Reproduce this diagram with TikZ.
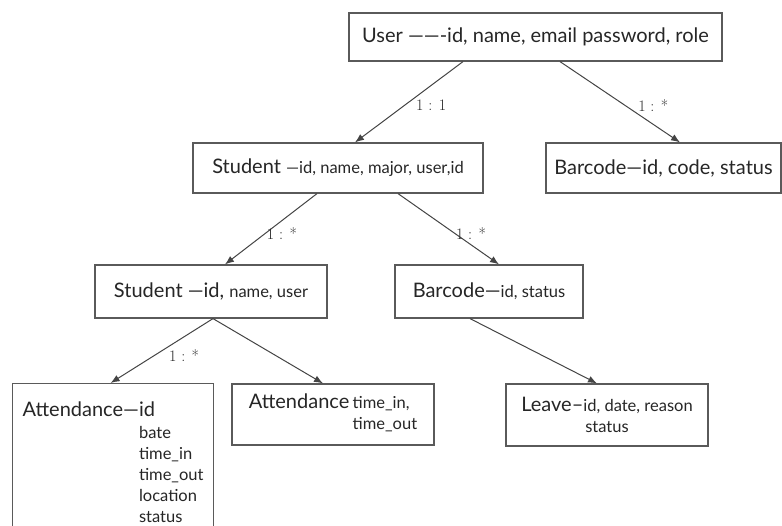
\documentclass[tikz,border=0pt]{standalone}
\usepackage{fontspec}
\setmainfont{Lato}
\newfontfamily\relfont{Latin Modern Roman}
\usetikzlibrary{arrows.meta}
\usepackage{xcolor}

\definecolor{boxgray}{HTML}{5A5A5A}
\definecolor{linegray}{HTML}{444444}
\definecolor{txtgray}{HTML}{262626}

\newcommand{\ename}{\fontsize{20}{22}\selectfont}
\newcommand{\eattr}{\fontsize{16.5}{21}\selectfont}

\begin{document}
\begin{tikzpicture}[
  x=1pt, y=-1pt,
  every node/.style={text=txtgray},
  entity/.style={draw=boxgray, line width=1.2pt, fill=white, align=center, inner sep=0pt},
  rel/.style={font=\relfont\fontsize{16}{18}\selectfont, anchor=west, inner sep=1pt, text=txtgray},
  line/.style={-{Latex[length=9pt,width=7pt]}, draw=linegray, line width=1pt}
]
\useasboundingbox (0,0) rectangle (782,526);

\node[entity, minimum width=373, minimum height=48] (user) at (535.5,37)
  {\ename User ——-id, name, email password, role};
\node[entity, minimum width=290, minimum height=50] (stu1) at (338,168)
  {\ename Student \eattr—id, name, major, user,id};
\node[entity, minimum width=235, minimum height=50] (bar1) at (663.5,168)
  {\ename Barcode—id, code, status};
\node[entity, minimum width=232, minimum height=53] (stu2) at (211,291.5)
  {\ename Student —id, \eattr name, user};
\node[entity, minimum width=188, minimum height=53] (bar2) at (489,291.5)
  {\ename Barcode—\eattr id, status};
\node[entity, anchor=north west, minimum width=201, inner ysep=18pt] (att1) at (12,383)
  {\eattr\begin{tabular}{@{}l@{}l@{}}
    \ename Attendance— & \ename id\\[1pt]
    & bate\\
    & time\_in\\
    & time\_out\\
    & location\\
    & status
  \end{tabular}};
\node[entity, minimum width=202, minimum height=61] (att2) at (333,414.5)
  {\eattr\begin{tabular}{@{}l@{}l@{}}
    \ename Attendance\, & time\_in,\\
    & time\_out
  \end{tabular}};
\node[entity, minimum width=202, minimum height=62, font=\eattr] (leave) at (607,415)
  {{\ename Leave–}id, date, reason\\status};

\draw[line] ([shift={(-72.5,0)}]user.south) -- node[rel, pos=0.54, xshift=10pt]{1 : 1} ([shift={(17,0)}]stu1.north);
\draw[line] ([shift={(24.5,0)}]user.south) -- node[rel, pos=0.54, xshift=12pt]{1 : *} ([shift={(16.5,0)}]bar1.north);
\draw[line] ([shift={(-21,0)}]stu1.south) -- node[rel, pos=0.56]{1 : *} ([shift={(14,0)}]stu2.north);
\draw[line] ([shift={(60,0)}]stu1.south) -- node[rel, pos=0.56]{1 : *} ([shift={(10,0)}]bar2.north);
\draw[line] ([shift={(2,0)}]stu2.south) -- node[rel, pos=0.58, xshift=14pt]{1 : *} ([shift={(-2.5,0)}]att1.north);
\draw[line] ([shift={(2,0)}]stu2.south) -- ([shift={(-10,0)}]att2.north);
\draw[line] ([shift={(-19,0)}]bar2.south) -- ([shift={(-10,0)}]leave.north);
\end{tikzpicture}
\end{document}
